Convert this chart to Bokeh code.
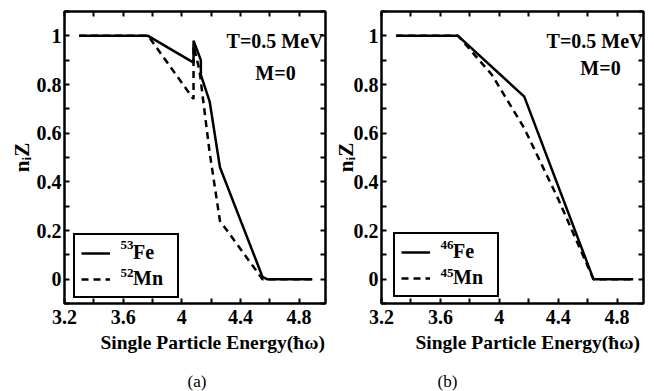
from bokeh.plotting import figure
from bokeh.models import (Range1d, FixedTicker, LinearAxis, Legend, LegendItem, Label,
                          Title, CustomJSTickFormatter)
from bokeh.layouts import row
from bokeh.embed import file_html
from bokeh.resources import INLINE

# ---- data ----
fe53_x = [3.3, 3.77, 4.08, 4.08, 4.13, 4.13, 4.19, 4.26, 4.55, 4.58, 4.89]
fe53_y = [1.0, 1.0, 0.89, 0.98, 0.90, 0.84, 0.73, 0.46, 0.01, 0.0, 0.0]
mn52_x = [3.3, 3.77, 4.08, 4.08, 4.12, 4.19, 4.26, 4.55, 4.89]
mn52_y = [1.0, 1.0, 0.74, 0.96, 0.86, 0.52, 0.24, 0.0, 0.0]

fe46_x = [3.3, 3.72, 4.17, 4.64, 4.91]
fe46_y = [1.0, 1.0, 0.75, 0.0, 0.0]
mn45_x = [3.3, 3.72, 3.95, 4.17, 4.4, 4.64, 4.91]
mn45_y = [1.0, 1.0, 0.84, 0.62, 0.33, 0.0, 0.0]

x_ticks = [3.2, 3.6, 4.0, 4.4, 4.8]
x_tick_labels = ["3.2", "3.6", "4", "4.4", "4.8"]
x_minor = [3.4, 3.8, 4.2, 4.6]
y_ticks = [0.0, 0.2, 0.4, 0.6, 0.8, 1.0]
y_tick_labels = ["0", "0.2", "0.4", "0.6", "0.8", "1"]
y_minor = [-0.1, 0.1, 0.3, 0.5, 0.7, 0.9, 1.1]

FONT = "Liberation Serif"
PAD, GLYPH_W, STANDOFF = 6, 29, 23


def key(t):
    return str(int(t)) if t == int(t) else str(t)


def make_panel(width, border_left, border_right, xs, ys, names, supers, caption,
               legend_loc, xlab_off, cap_off, temp_x, m_x, m_y, ylab_standoff):
    p = figure(width=width, height=391, output_backend="svg", toolbar_location=None,
               x_range=Range1d(3.2, 4.98), y_range=Range1d(-0.1, 1.1),
               min_border_left=border_left, min_border_right=border_right,
               min_border_top=11, min_border_bottom=88,
               x_axis_type=None, y_axis_type=None)
    p.grid.visible = False
    p.outline_line_color = "black"
    p.outline_line_width = 2.5
    p.outline_line_alpha = 1.0
    p.background_fill_color = "white"
    p.border_fill_color = "white"

    xt = FixedTicker(ticks=x_ticks, minor_ticks=x_minor)
    yt = FixedTicker(ticks=y_ticks, minor_ticks=y_minor)
    xo = {key(t): l for t, l in zip(x_ticks, x_tick_labels)}
    yo = {key(t): l for t, l in zip(y_ticks, y_tick_labels)}

    def style(ax, show):
        ax.axis_line_color = None
        ax.major_tick_in = 5
        ax.major_tick_out = 0
        ax.minor_tick_in = 5
        ax.minor_tick_out = 0
        ax.major_tick_line_width = 2
        ax.minor_tick_line_width = 2
        ax.major_tick_line_color = "black"
        ax.minor_tick_line_color = "black"
        if show:
            ax.major_label_text_font = FONT
            ax.major_label_text_font_style = "bold"
            ax.major_label_text_font_size = "20px"
            ax.major_label_text_color = "black"
        else:
            ax.formatter = CustomJSTickFormatter(code="return ''")
            ax.major_label_standoff = 0

    bx = LinearAxis(ticker=xt, major_label_overrides=xo, major_label_standoff=6)
    style(bx, True)
    p.add_layout(bx, "below")
    lx = LinearAxis(ticker=yt, major_label_overrides=yo, major_label_standoff=3,
                    axis_label="nᵢZ", axis_label_standoff=ylab_standoff,
                    axis_label_text_font=FONT, axis_label_text_font_style="bold",
                    axis_label_text_font_size="21px", axis_label_text_color="black")
    style(lx, True)
    p.add_layout(lx, "left")
    tx = LinearAxis(ticker=xt)
    style(tx, False)
    p.add_layout(tx, "above")
    rx = LinearAxis(ticker=yt)
    style(rx, False)
    p.add_layout(rx, "right")

    r1 = p.line(xs[0], ys[0], line_color="black", line_width=2.5)
    r2 = p.line(xs[1], ys[1], line_color="black", line_width=2.5, line_dash="7 5")

    leg = Legend(items=[LegendItem(label=names[0], renderers=[r1]),
                        LegendItem(label=names[1], renderers=[r2])],
                 location=legend_loc, padding=PAD, margin=0, spacing=3,
                 glyph_width=GLYPH_W, glyph_height=20, label_height=20, label_width=38,
                 label_standoff=STANDOFF, border_line_color="black", border_line_width=2,
                 border_line_alpha=1.0,
                 label_text_font=FONT, label_text_font_style="bold",
                 label_text_font_size="20px", label_text_color="black",
                 background_fill_alpha=0)
    p.add_layout(leg)

    sx = legend_loc[0] + PAD + GLYPH_W + STANDOFF + 2
    for s, yy in zip(supers, [63, 35]):
        p.add_layout(Label(x=sx, y=yy, x_units="screen", y_units="screen", text=s,
                           text_align="right", text_baseline="top", text_font=FONT,
                           text_font_style="bold", text_font_size="13px",
                           text_color="black"))

    common = dict(x_units="screen", y_units="screen", text_font=FONT, text_color="black")
    p.add_layout(Label(x=temp_x, y=263, text="T=0.5 MeV", text_align="right",
                       text_baseline="middle", text_font_style="bold",
                       text_font_size="20px", **common))
    p.add_layout(Label(x=m_x, y=m_y, text="M=0", text_align="center",
                       text_baseline="middle", text_font_style="bold",
                       text_font_size="20px", **common))

    p.add_layout(Title(text="Single Particle Energy(ħω)", align="left", offset=xlab_off,
                       standoff=6, text_font=FONT, text_font_style="bold",
                       text_font_size="19.5px", text_color="black"), "below")
    # blank spacer between the axis title and the panel caption
    p.add_layout(Title(text=" ", align="left", standoff=2, text_font=FONT,
                       text_font_size="10px"), "below")
    p.add_layout(Title(text=caption, align="left", offset=cap_off, standoff=-2,
                       text_font=FONT, text_font_style="normal",
                       text_font_size="17px", text_color="black"), "below")
    return p


pa = make_panel(328, 64, 3, [fe53_x, mn52_x], [fe53_y, mn52_y], ["Fe", "Mn"],
                ["53", "52"], "(a)", (9, 5), 36, 123, 259, 211, 231, 0)
pb = make_panel(326, 53, 11, [fe46_x, mn45_x], [fe46_y, mn45_y], ["Fe", "Mn"],
                ["46", "45"], "(b)", (12, 6), 34, 56, 262, 219, 236, -7)

layout = row(pa, pb, spacing=0)
open("out.html", "w").write(file_html(layout, INLINE))
